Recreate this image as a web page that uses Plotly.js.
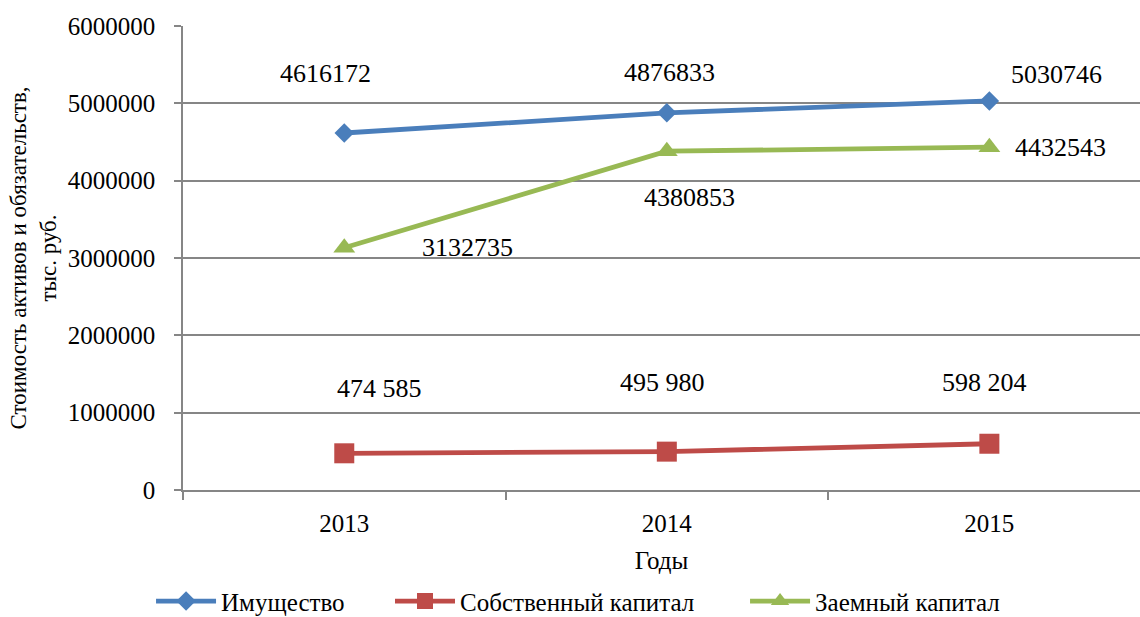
<!DOCTYPE html>
<html>
<head>
<meta charset="utf-8">
<script src="https://cdn.plot.ly/plotly-3.0.1.min.js"></script>
<style>html,body{margin:0;padding:0;background:#fff;}#chart{width:1140px;height:617px;}</style>
</head>
<body>
<div id="chart"></div>
<script>
const years = ['2013', '2014', '2015'];
const assets = [4616172, 4876833, 5030746];
const equity = [474585, 495980, 598204];
const debt = [3132735, 4380853, 4432543];
const assetsLabels = ['4616172', '4876833', '5030746'];
const equityLabels = ['474 585', '495 980', '598 204'];
const debtLabels = ['3132735', '4380853', '4432543'];
const names = ['Имущество', 'Собственный капитал', 'Заемный капитал'];
const yTicks = [0, 1000000, 2000000, 3000000, 4000000, 5000000, 6000000];

const colors = ['#4A7EBB', '#BE4B48', '#98B954'];
const font = 'Liberation Serif';

const traces = [
  {x: years, y: assets, name: names[0], legend: 'legend', mode: 'lines+markers', line: {color: colors[0], width: 4.8}, marker: {symbol: 'diamond', size: 15, color: colors[0]}},
  {x: years, y: equity, name: names[1], legend: 'legend2', mode: 'lines+markers', line: {color: colors[1], width: 4.8}, marker: {symbol: 'square', size: 20, color: colors[1]}},
  {x: years, y: debt, name: names[2], legend: 'legend3', mode: 'lines+markers', line: {color: colors[2], width: 4.8}, marker: {symbol: 'triangle-up', size: 19, color: colors[2]}}
];

// label offsets (pixels) relative to each point
const shifts = [
  [[-19, 60], [3, 40], [67, 26]],
  [[35, 65], [-4, 69], [-5, 61]],
  [[123, 0], [23, -46], [71, 0]]
];
const series = [assets, equity, debt];
const labels = [assetsLabels, equityLabels, debtLabels];
const annotations = [];
series.forEach((s, i) => {
  s.forEach((v, j) => {
    annotations.push({
      x: j, y: v, xref: 'x', yref: 'y', text: labels[i][j], showarrow: false,
      xshift: shifts[i][j][0], yshift: shifts[i][j][1],
      font: {family: font, size: 26, color: '#000'}
    });
  });
});

function legendAt(x) {
  return {orientation: 'h', x: x, xanchor: 'left', y: -0.24, yanchor: 'middle',
    font: {family: font, size: 25, color: '#000'}, itemwidth: 60, bgcolor: 'rgba(0,0,0,0)'};
}

const layout = {
  width: 1140, height: 617,
  margin: {l: 183, r: 0, t: 26, b: 127, autoexpand: false},
  paper_bgcolor: '#fff', plot_bgcolor: '#fff',
  showlegend: true,
  legend: legendAt(-0.0334),
  legend2: legendAt(0.2163),
  legend3: legendAt(0.5873),
  xaxis: {
    type: 'category', range: [-0.5, 2.467], tickson: 'boundaries',
    ticks: 'outside', ticklen: 8, tickcolor: '#868686', tickwidth: 1.5,
    showline: true, linecolor: '#868686', linewidth: 1.5, showgrid: false, zeroline: false,
    tickfont: {family: font, size: 25, color: '#000'}, ticklabelstandoff: 10,
    title: {text: 'Годы', font: {family: font, size: 25, color: '#000'}, standoff: 16}
  },
  yaxis: {
    range: [0, 6000000], tickvals: yTicks, ticktext: yTicks.map(String),
    ticks: 'outside', ticklen: 7, tickcolor: '#868686', tickwidth: 1.5,
    showline: true, linecolor: '#868686', linewidth: 1.5,
    showgrid: true, gridcolor: '#868686', gridwidth: 1.5, zeroline: false,
    tickfont: {family: font, size: 25, color: '#000'}, ticklabelstandoff: 14,
    title: {text: 'Стоимость активов и обязательств,<br>тыс. руб.', font: {family: font, size: 23, color: '#000'}, standoff: 5}
  },
  annotations: annotations
};

Plotly.newPlot('chart', traces, layout, {displayModeBar: false});
</script>
</body>
</html>
